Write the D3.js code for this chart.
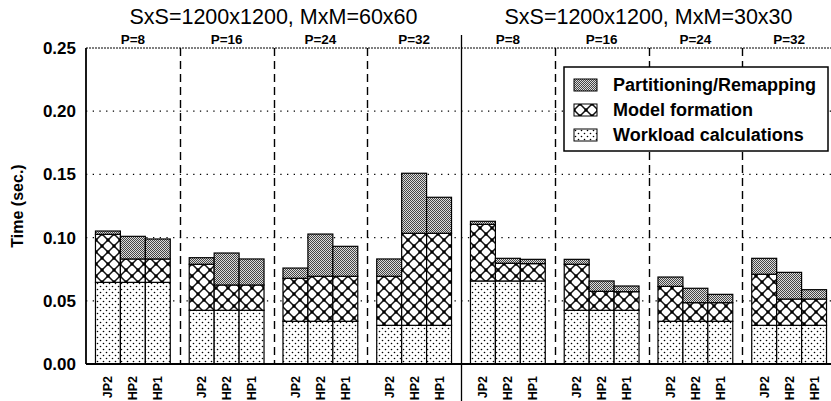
<!DOCTYPE html>
<html>
<head>
<meta charset="utf-8">
<script src="https://cdn.jsdelivr.net/npm/d3@7"></script>
<style>
  body { margin: 0; background: #fff; }
  svg { display: block; font-family: "Liberation Sans", Arial, sans-serif; }
</style>
</head>
<body>
<svg id="chart" width="831" height="401"></svg>
<script>
// Data
const panels = ["SxS=1200x1200, MxM=60x60", "SxS=1200x1200, MxM=30x30"];
const procs = ["P=8", "P=16", "P=24", "P=32"];
const methods = ["JP2", "HP2", "HP1"];
const layers = ["Workload calculations", "Model formation", "Partitioning/Remapping"];
const yTicks = [0, 0.05, 0.10, 0.15, 0.20, 0.25];

// one entry per group (panel x P), three bars each: JP2, HP2, HP1
const workload = [
  [0.0646, 0.0646, 0.0646], [0.0425, 0.0425, 0.0425], [0.0338, 0.0338, 0.0338], [0.0306, 0.0306, 0.0306],
  [0.0657, 0.0657, 0.0657], [0.0425, 0.0425, 0.0425], [0.0338, 0.0338, 0.0338], [0.0306, 0.0306, 0.0306]
];
const model = [
  [0.0380, 0.0185, 0.0185], [0.0364, 0.0200, 0.0200], [0.0340, 0.0356, 0.0356], [0.0388, 0.0728, 0.0728],
  [0.0448, 0.0140, 0.0137], [0.0364, 0.0150, 0.0147], [0.0276, 0.0147, 0.0147], [0.0404, 0.0208, 0.0208]
];
const partition = [
  [0.0026, 0.0179, 0.0158], [0.0052, 0.0253, 0.0206], [0.0081, 0.0334, 0.0237], [0.0137, 0.0475, 0.0285],
  [0.0024, 0.0039, 0.0034], [0.0039, 0.0082, 0.0045], [0.0074, 0.0114, 0.0066], [0.0126, 0.0211, 0.0074]
];

const svg = d3.select("#chart");
const margin = { left: 86, top: 48, bottom: 364 };
const plotRight = 836; // right edge runs just past the window

const y = d3.scaleLinear().domain([0, 0.25]).range([margin.bottom, margin.top]);

const groupKeys = d3.range(panels.length * procs.length);
const xGroup = d3.scaleBand().domain(groupKeys).range([margin.left, plotRight]);
const xBar = d3.scaleBand().domain(methods).range([0, xGroup.bandwidth()]).paddingOuter(0.38).paddingInner(0);

// fill patterns
const defs = svg.append("defs");

const pDots = defs.append("pattern").attr("id", "pat-dots")
  .attr("patternUnits", "userSpaceOnUse").attr("width", 6).attr("height", 6);
pDots.append("rect").attr("width", 6).attr("height", 6).attr("fill", "#fff");
pDots.append("circle").attr("cx", 1.5).attr("cy", 1.5).attr("r", 0.8).attr("fill", "#000");
pDots.append("circle").attr("cx", 4.5).attr("cy", 4.5).attr("r", 0.8).attr("fill", "#000");

const pCross = defs.append("pattern").attr("id", "pat-cross")
  .attr("patternUnits", "userSpaceOnUse").attr("width", 12).attr("height", 12);
pCross.append("rect").attr("width", 12).attr("height", 12).attr("fill", "#fff");
pCross.append("path").attr("d", "M0,0L12,12M12,0L0,12").attr("stroke", "#111").attr("stroke-width", 1.5);
pCross.append("circle").attr("cx", 6).attr("cy", 6).attr("r", 1.7).attr("fill", "#000");
[[0, 0], [12, 0], [0, 12], [12, 12]].forEach(c => {
  pCross.append("circle").attr("cx", c[0]).attr("cy", c[1]).attr("r", 1.7).attr("fill", "#000");
});

const pDark = defs.append("pattern").attr("id", "pat-dark")
  .attr("patternUnits", "userSpaceOnUse").attr("width", 2).attr("height", 2);
pDark.append("rect").attr("width", 2).attr("height", 2).attr("fill", "#dcdcdc");
pDark.append("rect").attr("x", 0).attr("y", 0).attr("width", 1).attr("height", 1).attr("fill", "#444");
pDark.append("rect").attr("x", 1).attr("y", 1).attr("width", 1).attr("height", 1).attr("fill", "#444");

const fills = ["url(#pat-dots)", "url(#pat-cross)", "url(#pat-dark)"];

// gridlines
svg.append("g").selectAll("line")
  .data(yTicks.filter(t => t > 0 && t < 0.25))
  .enter().append("line")
  .attr("x1", margin.left).attr("x2", plotRight)
  .attr("y1", d => y(d)).attr("y2", d => y(d))
  .attr("stroke", "#000").attr("stroke-width", 1.3)
  .attr("stroke-dasharray", "1.3,5.4");

// top border (fine dashes)
svg.append("line")
  .attr("x1", margin.left).attr("x2", plotRight)
  .attr("y1", y(0.25)).attr("y2", y(0.25))
  .attr("stroke", "#000").attr("stroke-width", 1)
  .attr("stroke-dasharray", "2,1");

// group separators
groupKeys.slice(1).forEach(g => {
  const gx = Math.round(xGroup(g)) + 0.5;
  if (g === procs.length) {
    svg.append("line").attr("x1", gx).attr("x2", gx)
      .attr("y1", 35).attr("y2", 401)
      .attr("stroke", "#000").attr("stroke-width", 1.3);
  } else {
    svg.append("line").attr("x1", gx).attr("x2", gx)
      .attr("y1", y(0.25)).attr("y2", y(0))
      .attr("stroke", "#000").attr("stroke-width", 1.4)
      .attr("stroke-dasharray", "8,5");
  }
});

// stacked bars
const barData = [];
groupKeys.forEach(g => {
  methods.forEach((m, i) => {
    const vals = [workload[g][i], model[g][i], partition[g][i]];
    let base = 0;
    vals.forEach((v, k) => {
      barData.push({ g, m, k, y0: base, y1: base + v });
      base += v;
    });
  });
});

svg.append("g").selectAll("rect")
  .data(barData)
  .enter().append("rect")
  .attr("x", d => xGroup(d.g) + xBar(d.m))
  .attr("width", xBar.bandwidth())
  .attr("y", d => y(d.y1))
  .attr("height", d => y(d.y0) - y(d.y1))
  .attr("fill", d => fills[d.k])
  .attr("stroke", "#000").attr("stroke-width", 1.2);

// axes lines
svg.append("line").attr("x1", margin.left).attr("x2", margin.left)
  .attr("y1", y(0.25)).attr("y2", y(0)).attr("stroke", "#000").attr("stroke-width", 1.8);
svg.append("line").attr("x1", margin.left).attr("x2", plotRight)
  .attr("y1", y(0)).attr("y2", y(0)).attr("stroke", "#000").attr("stroke-width", 1.8);

// y tick labels
const yAxis = d3.axisLeft(y).tickValues(yTicks).tickFormat(d3.format(".2f")).tickSize(0).tickPadding(10);
const gy = svg.append("g").attr("transform", `translate(${margin.left},0)`).call(yAxis);
gy.select(".domain").remove();
gy.selectAll("text").attr("font-size", 17).attr("font-weight", "bold")
  .attr("font-family", "Liberation Sans, Arial, sans-serif").attr("fill", "#000");

svg.append("text")
  .attr("transform", `translate(23,${(y(0) + y(0.25)) / 2}) rotate(-90)`)
  .attr("text-anchor", "middle")
  .attr("font-size", 16).attr("font-weight", "bold")
  .text("Time (sec.)");

// x labels (rotated)
groupKeys.forEach(g => {
  methods.forEach(m => {
    const cx = xGroup(g) + xBar(m) + xBar.bandwidth() / 2;
    svg.append("text")
      .attr("transform", `translate(${cx + 4.5},376) rotate(-90)`)
      .attr("text-anchor", "end")
      .attr("font-size", 12.5).attr("font-weight", "bold")
      .text(m);
  });
});

// P labels
groupKeys.forEach(g => {
  svg.append("text")
    .attr("x", xGroup(g) + xGroup.bandwidth() / 2)
    .attr("y", 44)
    .attr("text-anchor", "middle")
    .attr("font-size", 13.5).attr("font-weight", "bold")
    .text(procs[g % procs.length]);
});

// panel titles
panels.forEach((t, i) => {
  const g0 = i * procs.length;
  const x0 = xGroup(g0);
  const x1 = xGroup(g0 + procs.length - 1) + xGroup.bandwidth();
  svg.append("text")
    .attr("x", (x0 + x1) / 2)
    .attr("y", 24)
    .attr("text-anchor", "middle")
    .attr("font-size", 21.5)
    .text(t);
});

// legend
const legend = svg.append("g").attr("transform", "translate(564,67)");
legend.append("rect").attr("width", 264).attr("height", 84)
  .attr("fill", "#fff").attr("stroke", "#000").attr("stroke-width", 1.5);
const legendOrder = [2, 1, 0];
legendOrder.forEach((k, i) => {
  const row = legend.append("g").attr("transform", `translate(10,${18 + i * 25})`);
  row.append("rect").attr("x", 0).attr("y", -6).attr("width", 23).attr("height", 12)
    .attr("fill", fills[k]).attr("stroke", "#000").attr("stroke-width", 1);
  row.append("text").attr("x", 39).attr("y", 0).attr("dy", "0.36em")
    .attr("font-size", 18).attr("font-weight", "bold")
    .text(layers[k]);
});
</script>
</body>
</html>
